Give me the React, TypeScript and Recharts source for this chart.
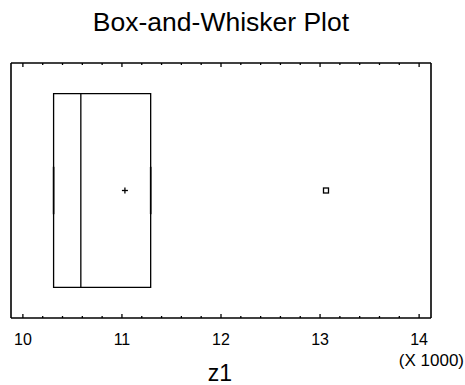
import {
  ComposedChart,
  XAxis,
  YAxis,
  Scatter,
  ReferenceArea,
  ReferenceLine,
  Customized,
} from "recharts";

// z1 summary, in thousands
const fiveNumber = { min: 10.31, q1: 10.31, median: 10.585, q3: 11.29, max: 11.29 };
const meanPoint = [{ x: 11.03, y: 0.5 }];
const outliers = [{ x: 13.06, y: 0.5 }];

const majorTicks = [10, 11, 12, 13, 14];
const xDomain = [9.88, 14.12];

// minor ticks every 0.2 between the labelled ones
const allTicks: number[] = [];
for (let i = 0; i <= (majorTicks[majorTicks.length - 1] - majorTicks[0]) * 5; i++) {
  allTicks.push(Math.round((majorTicks[0] + i * 0.2) * 10) / 10);
}

const FONT = "'Liberation Sans', Arial, sans-serif";
const BOX_HALF = 0.38; // box half-height in y units
const CAP_HALF = 0.093;

const isMajor = (v: number) => majorTicks.includes(v);

const BottomTick = (props: any) => {
  const { x, y, payload } = props;
  const v = payload.value;
  const len = isMajor(v) ? 4 : 2;
  return (
    <g>
      <line x1={x} x2={x} y1={y} y2={y - len} stroke="#000" strokeWidth={1.3} />
      {isMajor(v) && (
        <text x={x} y={y + 27} textAnchor="middle" fontSize={16} fontFamily={FONT} fill="#000">
          {v}
        </text>
      )}
    </g>
  );
};

const TopTick = (props: any) => {
  const { x, y, payload } = props;
  const len = isMajor(payload.value) ? 4 : 2;
  return <line x1={x} x2={x} y1={y} y2={y + len} stroke="#000" strokeWidth={1.3} />;
};

const Plus = (props: any) => {
  const { cx, cy } = props;
  return (
    <g stroke="#000" strokeWidth={1.3}>
      <line x1={cx - 3} x2={cx + 3} y1={cy} y2={cy} />
      <line x1={cx} x2={cx} y1={cy - 3} y2={cy + 3} />
    </g>
  );
};

const Square = (props: any) => {
  const { cx, cy } = props;
  return <rect x={cx - 2.5} y={cy - 2.5} width={5} height={5} fill="#fff" stroke="#000" strokeWidth={1.3} />;
};

const Texts = () => (
  <g fontFamily={FONT} fill="#000">
    <text x={221} y={31} textAnchor="middle" fontSize={26.5}>
      Box-and-Whisker Plot
    </text>
    <text x={464} y={366} textAnchor="end" fontSize={17}>
      (X 1000)
    </text>
    <text x={220} y={381} textAnchor="middle" fontSize={23}>
      z1
    </text>
  </g>
);

const frame = { stroke: "#000", strokeWidth: 1.6 };

export default function App() {
  const { min, q1, median, q3, max } = fiveNumber;
  return (
    <div style={{ position: "absolute", left: 0, top: 0, background: "#fff" }}>
      <ComposedChart
        width={465}
        height={385}
        margin={{ top: 62, right: 33, bottom: 66, left: 10 }}
      >
        <XAxis
          dataKey="x"
          type="number"
          domain={xDomain}
          allowDataOverflow
          ticks={allTicks}
          interval={0}
          height={1}
          tickSize={0}
          tickMargin={0}
          tick={BottomTick}
          tickLine={false}
          axisLine={frame}
        />
        <XAxis
          xAxisId="top"
          dataKey="x"
          orientation="top"
          type="number"
          domain={xDomain}
          allowDataOverflow
          ticks={allTicks}
          interval={0}
          height={1}
          tickSize={0}
          tickMargin={0}
          tick={TopTick}
          tickLine={false}
          axisLine={frame}
        />
        <YAxis
          dataKey="y"
          type="number"
          domain={[0, 1]}
          width={1}
          tick={false}
          tickLine={false}
          axisLine={frame}
        />
        <YAxis
          yAxisId="right"
          orientation="right"
          type="number"
          domain={[0, 1]}
          width={1}
          tick={false}
          tickLine={false}
          axisLine={frame}
        />
        <ReferenceArea
          x1={q1}
          x2={q3}
          y1={0.5 - BOX_HALF}
          y2={0.5 + BOX_HALF}
          fill="none"
          stroke="#000"
          strokeWidth={1.3}
        />
        <ReferenceLine
          segment={[
            { x: median, y: 0.5 - BOX_HALF },
            { x: median, y: 0.5 + BOX_HALF },
          ]}
          stroke="#000"
          strokeWidth={1.3}
        />
        <ReferenceLine
          segment={[
            { x: min, y: 0.5 - CAP_HALF },
            { x: min, y: 0.5 + CAP_HALF },
          ]}
          stroke="#000"
          strokeWidth={1.6}
        />
        <ReferenceLine
          segment={[
            { x: max, y: 0.5 - CAP_HALF },
            { x: max, y: 0.5 + CAP_HALF },
          ]}
          stroke="#000"
          strokeWidth={1.6}
        />
        <Scatter data={meanPoint} shape={Plus} isAnimationActive={false} />
        <Scatter xAxisId="top" data={outliers} shape={Square} isAnimationActive={false} />
        <Customized component={Texts} />
      </ComposedChart>
    </div>
  );
}
